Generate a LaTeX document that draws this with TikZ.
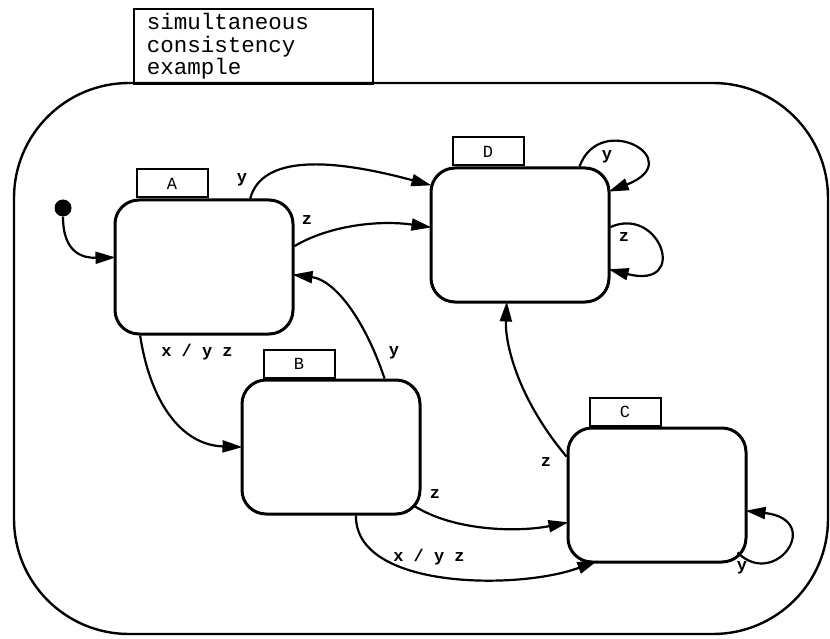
\documentclass[tikz,border=0pt]{standalone}
\usepackage{fontspec}
\setmonofont{Liberation Mono}
\usetikzlibrary{arrows.meta}

\tikzset{
  stbox/.style={draw, line width=3pt, rounded corners=24pt, minimum width=178pt, minimum height=134pt, inner sep=0pt},
  sttab/.style={draw, line width=2pt, minimum width=71pt, minimum height=28pt, inner sep=0pt, anchor=south west, font=\ttfamily\fontsize{17}{17}\selectfont},
  trarrow/.style={line width=2.2pt, -{Triangle[length=20pt,width=12pt]}, shorten >=-2pt},
  trlabel/.style={font=\ttfamily\bfseries\fontsize{17}{17}\selectfont, inner sep=0pt},
}

\begin{document}
\begin{tikzpicture}[x=1pt,y=-1pt]
\useasboundingbox (0,0) rectangle (830,639);

% superstate and its name
\draw[line width=2.4pt, rounded corners=115pt] (14,83) rectangle (828,634);
\node[draw, line width=1.6pt, anchor=north west, minimum width=239pt, minimum height=75pt, text width=213pt, inner xsep=13pt, align=left, font=\ttfamily\fontsize{22.5}{22.5}\selectfont] (title) at (133,8) {simultaneous\\consistency\\example};

% states
\node[stbox] (A) at (204,267) {};
\node[stbox] (D) at (520,235) {};
\node[stbox] (B) at (331,447) {};
\node[stbox] (C) at (657,495) {};
\foreach \s in {A,B,C,D}
  \node[sttab] (tab\s) at ([xshift=22pt]\s.north west) {\s};

% default entry
\node[circle, fill, inner sep=0pt, minimum size=17pt] (init) at (63,208) {};
\draw[trarrow] (init.south) .. controls (63,255) and (85,258) .. (A.174);

% transitions
\draw[trarrow] (A.56) .. controls (262,155) and (330,158) .. (D.151);
\draw[trarrow] (A.13) .. controls (330,225) and (380,220) .. (D.175);
\draw[trarrow] (A.-133) .. controls (150,400) and (180,445) .. (B.180);
\draw[trarrow] (B.52) .. controls (365,320) and (335,280) .. (A.-5);
\draw[trarrow] (C.157) .. controls (515,395) and (505,340) .. (D.-101);
\draw[trarrow] ([xshift=-8pt,yshift=10pt]B.south east) .. controls (455,532) and (520,532) .. (C.197);
\draw[trarrow] (B.-70) .. controls (355,590) and (520,590) .. ([xshift=29pt,yshift=2pt]C.south west);

% self loops
\draw[trarrow] (D.49) .. controls (600,110) and (690,160) .. (D.26);
\draw[trarrow] (D.5) .. controls (660,205) and (690,290) .. (D.-21);
\draw[trarrow] ([xshift=-10pt,yshift=11pt]C.south east) .. controls (775,590) and (825,520) .. (C.-10);

% labels
\node[trlabel] (ADy) at (242,180) {y};
\node[trlabel] (ADz) at (307,220) {z};
\node[trlabel] (ABx) at (197,352) {x / y z};
\node[trlabel] (BAy) at (394,353) {y};
\node[trlabel] (CDz) at (546,462) {z};
\node[trlabel] (BCz) at (435,494) {z};
\node[trlabel] (BCx) at (429,557) {x / y z};
\node[trlabel] (DDy) at (607,157) {y};
\node[trlabel] (DDz) at (624,237) {z};
\node[trlabel] (CCy) at (742,568) {y};

\end{tikzpicture}
\end{document}
